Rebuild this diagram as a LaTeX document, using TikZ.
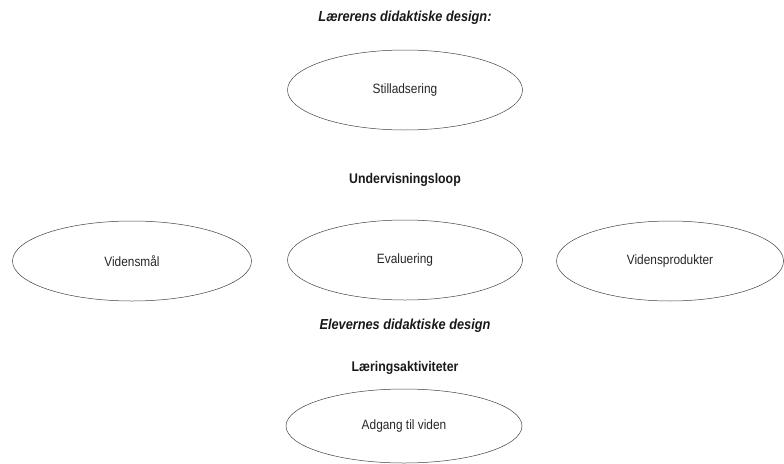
\documentclass[tikz,border=0pt]{standalone}
\usepackage{fontspec}
\setmainfont{Liberation Sans}[FakeStretch=0.88]
\usetikzlibrary{shapes.geometric}
\tikzset{
  oval/.style={draw=black!75, line width=0.5pt, ellipse, inner sep=0pt, font=\fontsize{13.5}{15}\selectfont, text=black!85},
  heading/.style={font=\fontsize{14}{16}\selectfont\bfseries, text=black!90},
  iheading/.style={font=\fontsize{14.5}{16}\selectfont\bfseries\itshape, text=black!90}
}
\begin{document}
\begin{tikzpicture}[x=1pt,y=-1pt]
\useasboundingbox (0,0) rectangle (784,463);
\node[iheading] (t1) at (405,18) {Lærerens didaktiske design:};
\node[oval, minimum width=235pt, minimum height=80pt] (stil) at (405,90) {Stilladsering};
\node[heading] (uloop) at (405,180) {Undervisningsloop};
\node[oval, minimum width=239pt, minimum height=80pt] (vm) at (132,261) {Vidensmål};
\node[oval, minimum width=235pt, minimum height=80pt] (ev) at (405,260) {Evaluering};
\node[oval, minimum width=227pt, minimum height=80pt] (vp) at (670,261) {Vidensprodukter};
\node[iheading] (t2) at (405,326) {Elevernes didaktiske design};
\node[heading] (la) at (405,368) {Læringsaktiviteter};
\node[oval, minimum width=236pt, minimum height=74pt] (ad) at (404,426) {Adgang til viden};
\end{tikzpicture}
\end{document}
